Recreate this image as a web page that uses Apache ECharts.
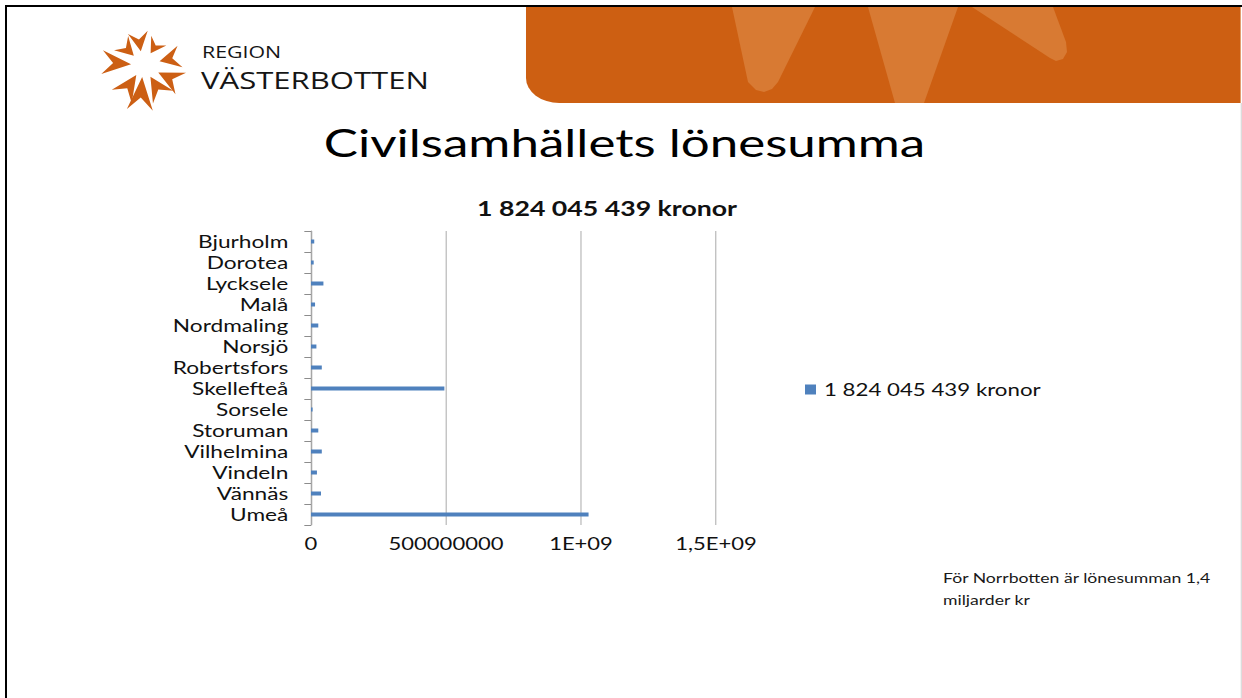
<!DOCTYPE html>
<html>
<head>
<meta charset="utf-8">
<script src="https://cdn.jsdelivr.net/npm/echarts@6/dist/echarts.min.js"></script>
<style>
  html, body { margin: 0; padding: 0; background: #fff; overflow: hidden; }
  #wrap { position: absolute; left: 0; top: 0; width: 931px; height: 698px; transform: scaleX(1.334049); transform-origin: 0 0; }
  #chart { width: 931px; height: 698px; }
</style>
</head>
<body>
<div id="wrap"><div id="chart"></div></div>
<script>
// ---- data ----
const categories = ['Bjurholm', 'Dorotea', 'Lycksele', 'Malå', 'Nordmaling', 'Norsjö', 'Robertsfors',
                    'Skellefteå', 'Sorsele', 'Storuman', 'Vilhelmina', 'Vindeln', 'Vännäs', 'Umeå'];
const salarySum = [12e6, 10e6, 46e6, 15e6, 27e6, 20e6, 40e6, 494e6, 6e6, 27e6, 40e6, 22e6, 37e6, 1028e6];
const seriesName = '1 824 045 439 kronor';
const xTickLabels = ['0', '500000000', '1E+09', '1,5E+09'];
const slideTitle = 'Civilsamhällets lönesumma';
const chartTitle = '1 824 045 439 kronor';
const noteText = 'För Norrbotten är lönesumman 1,4\nmiljarder kr';

// ---- layout helpers (slide is a 4:3 page stretched to 16:9) ----
const S = 1242 / 931;
const W0 = 931;
const ux = x => x / S;
const FONT = 'Lato, "Noto Sans", sans-serif';

function arrowPiece(cx, cy, angDeg, rIn, rOut, halfW) {
  const a = angDeg * Math.PI / 180, ca = Math.cos(a), sa = Math.sin(a);
  const px = -sa, py = ca, notch = 0.38 * (rOut - rIn);
  const pts = [
    [cx + ca * rIn, cy + sa * rIn],
    [cx + ca * rOut + px * halfW, cy + sa * rOut + py * halfW],
    [cx + ca * (rOut - notch), cy + sa * (rOut - notch)],
    [cx + ca * rOut - px * halfW, cy + sa * rOut - py * halfW]
  ];
  return pts.map(p => [ux(p[0]), p[1]]);
}
const starPieces = [
  [-99, 14, 33, 10], [-57, 14, 29, 9], [-13, 17, 38, 11], [26, 17, 42, 12], [58, 14, 38, 12],
  [94, 12, 45, 13], [124, 12, 38, 12], [184, 12, 41, 12], [225, 13, 31, 10]
];
const logoOrange = '#CC5F14';
const starEls = starPieces.map(p => ({
  type: 'polygon', z: 5,
  shape: { points: arrowPiece(143, 65, p[0], p[1], p[2], p[3]) },
  style: { fill: logoOrange }
}));

const light = '#D87A33';
const poly = pts => pts.map(p => [ux(p[0]), p[1]]);

const chart = echarts.init(document.getElementById('chart'), null, { renderer: 'svg' });
chart.setOption({
  animation: false,
  backgroundColor: '#fff',
  grid: { left: ux(311), right: W0 - ux(716), top: 231, bottom: 698 - 525, containLabel: false },
  legend: {
    data: [seriesName], left: ux(805), top: 381, padding: 0, icon: 'rect',
    itemWidth: ux(11), itemHeight: 10, itemGap: 4,
    textStyle: { fontFamily: FONT, fontSize: 16.7, color: '#111', padding: [0, 0, 0, 1] }
  },
  xAxis: {
    type: 'value', min: 0, max: 1.5e9, interval: 5e8,
    axisLine: { show: false }, axisTick: { show: false },
    splitLine: { show: true, lineStyle: { color: '#BFBFBF', width: 1 } },
    axisLabel: {
      margin: 10, fontFamily: FONT, fontSize: 16.5, color: '#111',
      formatter: v => xTickLabels[Math.round(v / 5e8)]
    }
  },
  yAxis: {
    type: 'category', data: categories, inverse: true,
    axisLine: { show: true, lineStyle: { color: '#A6A6A6', width: 1 } },
    axisTick: { show: true, length: 5, interval: 0, alignWithLabel: false, lineStyle: { color: '#8C8C8C', width: 1 } },
    axisLabel: { interval: 0, margin: 17, fontFamily: FONT, fontSize: 17, color: '#111' }
  },
  series: [{
    name: seriesName, type: 'bar', data: salarySum,
    barWidth: 4, itemStyle: { color: '#4F81BD' }
  }],
  graphic: { elements: [
    // page frame
    { type: 'rect', z: 1, shape: { x: ux(5), y: 5, width: W0, height: 2 }, style: { fill: '#000' } },
    { type: 'rect', z: 1, shape: { x: ux(5), y: 5, width: ux(2), height: 700 }, style: { fill: '#000' } },
    { type: 'rect', z: 1, shape: { x: ux(1240.8), y: 103, width: ux(0.8), height: 600 }, style: { fill: '#C4C4C4' } },
    // orange banner
    { type: 'rect', z: 2, shape: { x: ux(526), y: 7, width: ux(1240.6) - ux(526), height: 96, r: [0, 0, 0, 25] }, style: { fill: '#CD5F12' } },
    { type: 'polygon', z: 3, shape: { points: poly([[732, 7], [815, 7], [778, 82], [772, 89], [764, 92], [756, 90], [748, 82]]) }, style: { fill: light } },
    { type: 'polygon', z: 3, shape: { points: poly([[868, 7], [958, 7], [924, 103], [895, 103]]) }, style: { fill: light } },
    { type: 'polygon', z: 3, shape: { points: poly([[972, 7], [1053, 7], [1066, 42], [1067, 52], [1063, 59], [1056, 61], [1050, 58]]) }, style: { fill: light } },
    // logo
    ...starEls,
    { type: 'text', z: 5, x: ux(202), y: 52, style: { text: 'REGION', font: '400 16px "Open Sans", sans-serif', fill: '#151515', verticalAlign: 'middle' } },
    { type: 'text', z: 5, x: ux(201), y: 80, style: { text: 'VÄSTERBOTTEN', font: '400 23.3px "Open Sans", sans-serif', fill: '#151515', verticalAlign: 'middle' } },
    // titles and note
    { type: 'text', z: 5, x: ux(624.5), y: 142, style: { text: slideTitle, font: '400 38.3px ' + FONT, fill: '#000', align: 'center', verticalAlign: 'middle' } },
    { type: 'text', z: 5, x: ux(607), y: 208, style: { text: chartTitle, font: '700 20px ' + FONT, fill: '#111', align: 'center', verticalAlign: 'middle' } },
    { type: 'text', z: 5, x: ux(943), y: 567, style: { text: noteText, font: '400 13.2px ' + FONT, lineHeight: 22, fill: '#1a1a1a', verticalAlign: 'top' } }
  ]}
});
</script>
</body>
</html>
